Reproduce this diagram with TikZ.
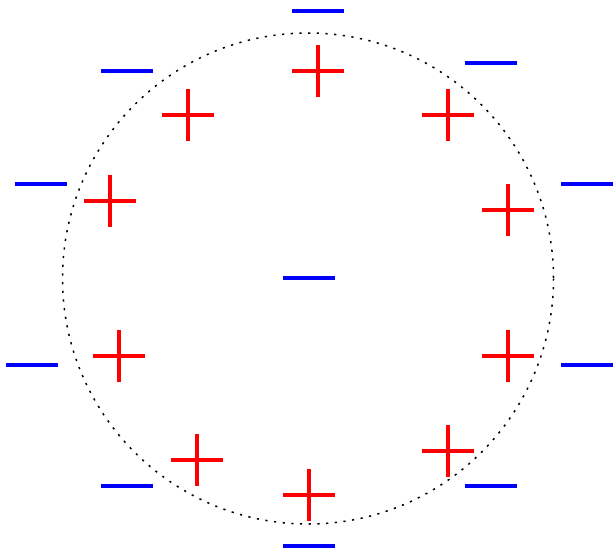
\documentclass[tikz,border=0pt]{standalone}
\begin{document}
\begin{tikzpicture}[x=1pt,y=-1pt,
  pics/plussign/.style={code={
    \draw[red,line width=3.4pt] (-26,0) -- (26,0) (0,-26) -- (0,26);}},
  pics/minussign/.style={code={
    \draw[blue,line width=3.2pt] (-26,0) -- (26,0);}},
  ring/.style={black,line width=1.5pt,dash pattern=on 2.2pt off 6.5pt}]
\useasboundingbox (0,0) rectangle (613,552);
\draw[ring] (308,278.5) circle[radius=245.5];
% positive charges
\pic at (318,71) {plussign};
\pic at (188,115) {plussign};
\pic at (448,115) {plussign};
\pic at (110,201) {plussign};
\pic at (508,210) {plussign};
\pic at (119,356) {plussign};
\pic at (508,356) {plussign};
\pic at (197,460) {plussign};
\pic at (448,451) {plussign};
\pic at (309,495) {plussign};
% negative charges
\pic at (318,11) {minussign};
\pic at (127,71) {minussign};
\pic at (491,63) {minussign};
\pic at (41,184) {minussign};
\pic at (587,184) {minussign};
\pic at (309,278) {minussign};
\pic at (32,365) {minussign};
\pic at (587,365) {minussign};
\pic at (127,486) {minussign};
\pic at (491,486) {minussign};
\pic at (309,546) {minussign};
\end{tikzpicture}
\end{document}
